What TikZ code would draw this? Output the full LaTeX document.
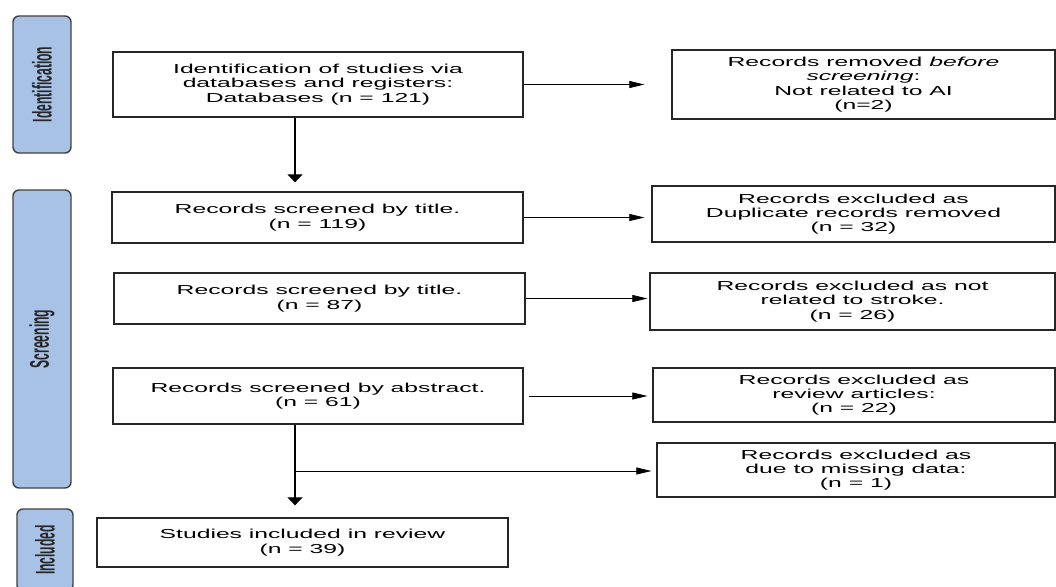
\documentclass[tikz,border=0pt]{standalone}
\usepackage{fontspec}
\setmainfont{Liberation Sans}[FakeStretch=1.9]
\newfontfamily\bandfont{Liberation Sans}[FakeStretch=0.45]
\usepackage{xcolor}
\usetikzlibrary{arrows.meta,calc}
\definecolor{bandblue}{RGB}{168,194,230}

\begin{document}
\begin{tikzpicture}[x=1pt,y=-1pt,
	recbox/.style={draw=black!85,line width=1.3pt,align=center,inner sep=0pt,
		font=\fontsize{13}{14.3}\selectfont},
	stageband/.style={draw=black!75,fill=bandblue,line width=1.4pt,rounded corners=6pt,
		rotate=90,inner sep=0pt,text=black!85,font=\bandfont\bfseries\fontsize{27}{30}\selectfont},
	hflow/.style={-{Triangle[length=15pt,width=7pt]},line width=0.7pt},
	vflow/.style={-{Triangle[length=8pt,width=15pt]},line width=1.2pt}]
	\useasboundingbox (0,0) rectangle (1056,586);
	
	% stages
	\node[stageband,minimum width=137pt,minimum height=58pt] (idband) at (42,84.5) {Identification};
	\node[stageband,minimum width=298pt,minimum height=58pt] (scrband) at (42,339) {Screening};
	\node[stageband,minimum width=82pt,minimum height=56pt] (inclband) at (45,550) {Included};
	
	% main column
	\node[recbox,minimum width=410pt,minimum height=65pt] (ident) at (318,84.5)
		{Identification of studies via\\ databases and registers:\\ Databases (n = 121)};
	\node[recbox,minimum width=411pt,minimum height=51pt] (scr1) at (317.5,217.5)
		{Records screened by title.\\ (n = 119)};
	\node[recbox,minimum width=411pt,minimum height=51pt] (scr2) at (319.5,298.5)
		{Records screened by title.\\ (n = 87)};
	\node[recbox,minimum width=410pt,minimum height=56pt] (abstr) at (318,396)
		{Records screened by abstract.\\ (n = 61)};
	\node[recbox,minimum width=411pt,minimum height=49pt] (incl) at (302.5,542.5)
		{Studies included in review\\ (n = 39)};
	
	% exclusions
	\node[recbox,minimum width=383pt,minimum height=69pt] (removed) at (863.5,84.5)
		{Records removed \textit{before}\\ \textit{screening}:\\ Not related to AI\\ (n=2)};
	\node[recbox,minimum width=403pt,minimum height=56pt] (dup) at (853.5,214)
		{Records excluded as\\ Duplicate records removed\\ (n = 32)};
	\node[recbox,minimum width=405pt,minimum height=57pt] (stroke) at (852.5,301.5)
		{Records excluded as not\\ related to stroke.\\ (n = 26)};
	\node[recbox,minimum width=402pt,minimum height=54pt] (review) at (854,395)
		{Records excluded as\\ review articles:\\ (n = 22)};
	\node[recbox,minimum width=398pt,minimum height=54pt] (missing) at (856,470)
		{Records excluded as\\ due to missing data:\\ (n = 1)};
	
	% arrows
	\coordinate (spine) at (295,0);
	\draw[vflow,shorten >=9pt] (ident.south -| spine) -- (scr1.north -| spine);
	\draw[vflow,shorten >=12pt] (abstr.south -| spine) -- (incl.north -| spine);
	\coordinate (branch) at ($(abstr.south -| spine)!0.5!(incl.north -| spine)$);
	\draw[hflow,shorten >=5pt] (branch) -- (branch -| missing.west);
	
	\draw[hflow,shorten >=27pt] (ident.east) -- (removed.west);
	\draw[hflow,shorten >=7pt] (scr1.east) -- (scr1.east -| dup.west);
	\draw[hflow,shorten >=2pt] (scr2.east) -- (scr2.east -| stroke.west);
	\draw[hflow,shorten >=5pt] ([xshift=5pt]abstr.east) -- (abstr.east -| review.west);
\end{tikzpicture}
\end{document}
